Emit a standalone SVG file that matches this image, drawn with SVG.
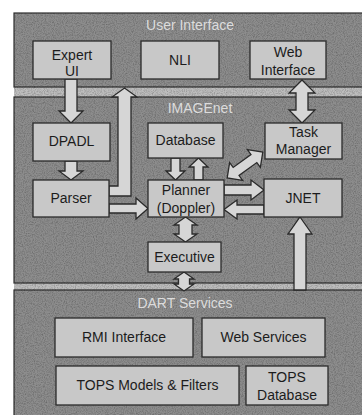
<svg xmlns="http://www.w3.org/2000/svg" width="362" height="415" viewBox="0 0 362 415">
<defs>
<filter id="grain" x="0" y="0" width="100%" height="100%">
<feTurbulence type="fractalNoise" baseFrequency="0.9" numOctaves="2" seed="4" result="t"/>
<feColorMatrix in="t" type="matrix" values="0 0 0 0 0  0 0 0 0 0  0 0 0 0 0  1.4 0 0 0 -0.55"/>
</filter>
</defs>
<style>
.sec{fill:#8d8d8d;stroke:#2e2e2e;stroke-width:1.2}
.gap{fill:#bdbdbd}
.box{fill:#c8c8c8;stroke:#2a2a2a;stroke-width:1.3}
.arr{fill:#d6d6d6;stroke:#2a2a2a;stroke-width:1.3;stroke-linejoin:miter}
.t{font-family:"Liberation Sans",Arial,sans-serif;font-size:14px;fill:#1c1c1c;text-anchor:middle}
.st{font-family:"Liberation Sans",Arial,sans-serif;font-size:14px;fill:#dcdcdc;text-anchor:middle}
</style>
<rect x="0" y="0" width="362" height="415" fill="#ffffff"/>
<g id="sections">
<rect class="gap" x="14" y="13" width="350" height="404"/>
<rect id="ui-layer" class="sec" x="14" y="13" width="350" height="74"/>
<rect id="imagenet-layer" class="sec" x="14" y="97" width="350" height="186"/>
<rect id="dart-layer" class="sec" x="14" y="290" width="350" height="127"/>
<rect x="14" y="13" width="348" height="402" fill="#000" filter="url(#grain)" opacity="0.35"/>
<text class="st" x="190" y="30">User Interface</text>
<text class="st" x="200" y="113">IMAGEnet</text>
<text class="st" x="185" y="308">DART Services</text>
</g>
<g id="connectors">
<path class="arr" d="M65,79 V111 H59 L71,123 L83,111 H77 V79 Z"/>
<path class="arr" d="M109,186 H118 V97 H112 L124.5,88 L137,97 H131 V196 H109 Z"/>
<path class="arr" d="M109,204 H136 V198 L148,208.5 L136,219 V213 H109 Z"/>
<path class="arr" d="M65,161 V171 H59 L71,180 L83,171 H77 V161 Z"/>
<path class="arr" d="M171,158 V171 H166 L175.5,180 L185,171 H180 V158 Z"/>
<path class="arr" d="M194,180 V167 H189 L198.5,158 L208,167 H203 V180 Z"/>
<path class="arr" d="M185.5,217 L197,225 H192 V234 H197 L185.5,242 L174,234 H179 V225 H174 Z"/>
<path class="arr" d="M184,272 L194,279 H189.5 V284 H194 L184,291 L174,284 H178.5 V279 H174 Z"/>
<path class="arr" d="M224,185 H251 V180 L264,190 L251,200 V195 H224 Z"/>
<path class="arr" d="M264,205 H237 V200 L224,209.5 L237,219 V214 H264 Z"/>
<path class="arr" transform="translate(245,165) rotate(-36)" d="M-22,0 L-11,-11 V-5 H11 V-11 L22,0 L11,11 V5 H-11 V11 Z"/>
<path class="arr" d="M302,80 L315,93 H308 V110 H315 L302,123 L289,110 H296 V93 H289 Z"/>
<path class="arr" d="M300,217 L312,234 H306 V290 H294 V234 H288 Z"/>
</g>
<g id="expert-ui"><rect class="box" x="33" y="41" width="78" height="38"/><text class="t" x="72" y="60">Expert</text><text class="t" x="72" y="76">UI</text></g>
<g id="nli"><rect class="box" x="141" y="41" width="78" height="38"/><text class="t" x="180" y="65">NLI</text></g>
<g id="web-interface"><rect class="box" x="250" y="41" width="76" height="38"/><text class="t" x="288" y="57">Web</text><text class="t" x="288" y="75">Interface</text></g>
<g id="dpadl"><rect class="box" x="33" y="123" width="77" height="38"/><text class="t" x="71.5" y="146">DPADL</text></g>
<g id="database"><rect class="box" x="148" y="123" width="75" height="35"/><text class="t" x="185.5" y="145">Database</text></g>
<g id="task-manager"><rect class="box" x="265" y="123" width="77" height="36"/><text class="t" x="303.5" y="137">Task</text><text class="t" x="303.5" y="154">Manager</text></g>
<g id="parser"><rect class="box" x="33" y="180" width="76" height="37"/><text class="t" x="71" y="203">Parser</text></g>
<g id="planner"><rect class="box" x="148" y="180" width="76" height="37"/><text class="t" x="186" y="195">Planner</text><text class="t" x="186" y="213">(Doppler)</text></g>
<g id="jnet"><rect class="box" x="264" y="179" width="78" height="38"/><text class="t" x="303" y="203">JNET</text></g>
<g id="executive"><rect class="box" x="148" y="242" width="73" height="30"/><text class="t" x="184.5" y="262">Executive</text></g>
<g id="rmi-interface"><rect class="box" x="55" y="318" width="138" height="39"/><text class="t" x="124" y="342">RMI Interface</text></g>
<g id="web-services"><rect class="box" x="202" y="318" width="123" height="39"/><text class="t" x="263.5" y="342">Web Services</text></g>
<g id="tops-models"><rect class="box" x="56" y="366" width="183" height="39"/><text class="t" x="147.5" y="390">TOPS Models &amp; Filters</text></g>
<g id="tops-database"><rect class="box" x="246" y="366" width="82" height="39"/><text class="t" x="287" y="382">TOPS</text><text class="t" x="287" y="400">Database</text></g>
</svg>
